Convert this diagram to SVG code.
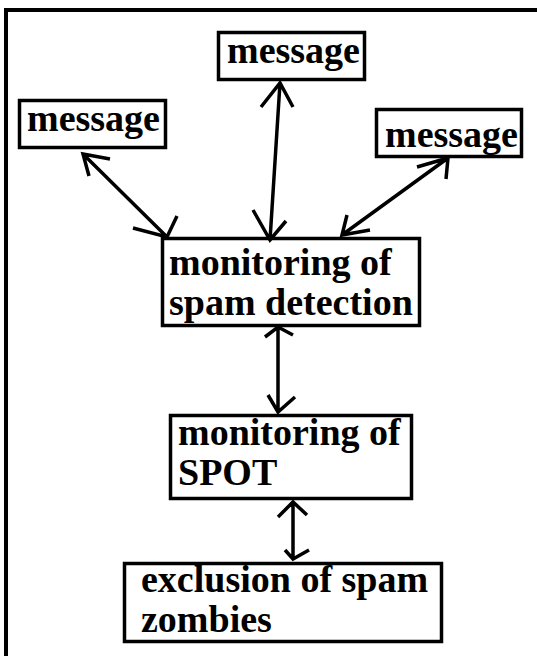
<svg xmlns="http://www.w3.org/2000/svg" width="537" height="656" viewBox="0 0 537 656">
<style>
.box{fill:#fff;stroke:#000;stroke-width:3.5}
.t{font-family:"Liberation Serif","Times New Roman",serif;font-weight:bold;font-size:38px;fill:#000}
.c{fill:none;stroke:#000;stroke-width:3.5;stroke-linecap:butt;stroke-linejoin:miter}
.frame{fill:none;stroke:#000;stroke-width:4}
</style>
<rect width="537" height="656" fill="#fff"/>
<path class="frame" d="M6,656 V10 H537"/>
<g id="msg-left"><rect class="box" x="19.5" y="100.5" width="146" height="47"/><text class="t" x="27" y="131">message</text></g>
<g id="msg-top"><rect class="box" x="218.5" y="32.5" width="146" height="47"/><text class="t" x="227" y="63">message</text></g>
<g id="msg-right"><rect class="box" x="376.5" y="109.5" width="145" height="47"/><text class="t" x="385" y="147">message</text></g>
<g id="spam-detection"><rect class="box" x="162.5" y="238.5" width="257" height="87"/><text class="t" x="169" y="275">monitoring of</text><text class="t" x="169" y="315">spam detection</text></g>
<g id="spot"><rect class="box" x="170.5" y="415.5" width="241" height="83"/><text class="t" x="178" y="445">monitoring of</text><text class="t" x="178" y="485">SPOT</text></g>
<g id="exclusion"><rect class="box" x="124.5" y="563.5" width="317" height="78"/><text class="t" x="141" y="592">exclusion of spam</text><text class="t" x="141" y="632">zombies</text></g>
<g id="connectors">
<path class="c" d="M83,154 L167,237 M110,159 L83,154 L89,176 M133,228 L167,237 L177,216"/>
<path class="c" d="M280,83 L270,240 M261,107 L280,83 L293,107 M253,210 L270,240 L286,221"/>
<path class="c" d="M448,158 L342,235 M417,167 L448,158 L446,179 M347,215 L342,235 L370,230"/>
<path class="c" d="M278,327 L278,412 M265,337 L278,327 L293,335 M268,395 L278,412 L295,397"/>
<path class="c" d="M293,502 L293,559 M278,517 L293,502 L307,515 M285,550 L293,559 L309,550"/>
</g>
</svg>
